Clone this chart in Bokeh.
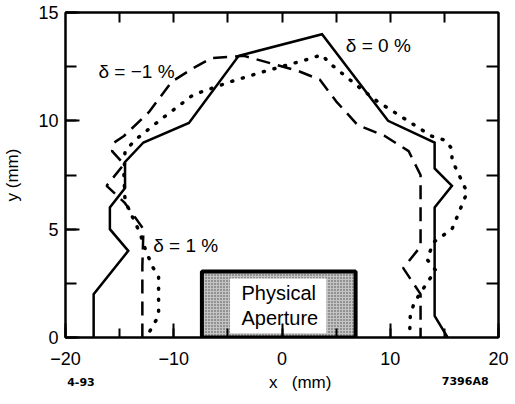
import math
from bokeh.plotting import figure
from bokeh.layouts import column
from bokeh.models import Range1d, LinearAxis, SingleIntervalTicker, FixedTicker, Label
from bokeh.embed import file_html
from bokeh.resources import INLINE

# ---- data ----
solid_x = [-17.4, -17.4, -14.2, -15.9, -15.9, -14.5, -14.5, -12.8, -8.6, -4.0, 3.7, 9.8, 14.1, 14.1, 15.7, 14.1, 14.1, 15.3]
solid_y = [0.0, 2.0, 4.0, 5.0, 6.0, 6.9, 8.1, 9.0, 9.9, 13.0, 14.0, 10.0, 9.0, 7.8, 7.0, 6.0, 1.0, 0.0]

dash_x = [-12.9, -12.9, -12.8, -14.5, -16.2, -14.6, -15.7, -15.5, -14.6, -12.3, -10.2, -8.3, -6.5, -3.5, 1.5, 3.5, 5.0, 7.0, 9.5, 11.7, 12.8, 12.8, 11.2, 12.8, 12.8]
dash_y = [0.0, 3.3, 5.0, 6.2, 7.0, 8.0, 8.6, 9.0, 9.3, 10.4, 11.8, 12.4, 12.9, 13.0, 12.3, 11.9, 10.9, 9.8, 9.3, 8.6, 7.5, 4.2, 3.2, 2.0, 0.0]

dot_x = [-12.2, -11.4, -11.4, -12.0, -12.8, -13.1, -14.5, -14.6, -14.5, -13.6, -11.1, -8.2, -4.8, -1.5, 2.1, 3.7, 4.3, 7.0, 8.8, 11.0, 13.8, 15.1, 15.7, 15.7, 17.1, 16.2, 15.7, 14.0, 13.4, 14.2, 13.5, 12.2, 11.85, 11.8]
dot_y = [0.3, 1.0, 2.8, 3.3, 4.3, 4.8, 6.3, 7.5, 8.6, 9.1, 10.1, 11.2, 11.8, 12.3, 12.8, 13.05, 12.7, 11.6, 10.9, 10.2, 9.3, 9.1, 8.7, 8.2, 6.7, 5.6, 5.0, 4.4, 3.6, 3.1, 2.6, 1.6, 1.0, 0.3]

aperture_x = [-7.4, 6.8]
aperture_h = 3.05
aperture_inner_x = [-4.8, 4.1]
aperture_inner_y = [0.2, 2.72]

series_labels = ["δ = 0 %", "δ = −1 %", "δ = 1 %"]
x_tick_labels = {-20: "−20", -10: "−10", 0: "0", 10: "10", 20: "20"}
top_ticks = [-15, -10, -5, 0, 5, 10, 15]
right_ticks = [2.5, 5, 7.5, 10, 12.5]

FONT = "Liberation Sans"

p = figure(frame_width=433, frame_height=325, output_backend="svg", toolbar_location=None,
           x_range=Range1d(-20, 20), y_range=Range1d(0, 15),
           min_border_left=64, min_border_right=12, min_border_top=12, min_border_bottom=34,
           background_fill_color="white", border_fill_color="white")
p.grid.visible = False
p.outline_line_color = "black"
p.outline_line_width = 2

xa = p.xaxis[0]
xa.ticker = SingleIntervalTicker(interval=10, num_minor_ticks=2)
xa.major_label_overrides = x_tick_labels
ya = p.yaxis[0]
ya.ticker = SingleIntervalTicker(interval=5, num_minor_ticks=2)

for ax, mt, mn in ((xa, 14, 9), (ya, 14, 11)):
    ax.axis_line_width = 2
    ax.axis_line_color = "black"
    ax.major_tick_in = mt
    ax.major_tick_out = 0
    ax.minor_tick_in = mn
    ax.minor_tick_out = 0
    ax.major_tick_line_width = 2
    ax.minor_tick_line_width = 2
    ax.major_tick_line_color = "black"
    ax.minor_tick_line_color = "black"
    ax.major_label_text_font = FONT
    ax.major_label_text_font_size = "18px"
    ax.major_label_text_color = "black"
    ax.axis_label_text_font = FONT
    ax.axis_label_text_font_size = "17px"
    ax.axis_label_text_font_style = "normal"
    ax.axis_label_text_color = "black"
xa.major_label_standoff = 14
ya.major_label_standoff = 7
ya.axis_label = "y (mm)"
ya.axis_label_standoff = 13

top = LinearAxis(ticker=FixedTicker(ticks=[], minor_ticks=top_ticks))
right = LinearAxis(ticker=FixedTicker(ticks=[], minor_ticks=right_ticks))
for ax, t in ((top, 10), (right, 12)):
    ax.axis_line_width = 2
    ax.major_tick_in = 0
    ax.major_tick_out = 0
    ax.minor_tick_in = t
    ax.minor_tick_out = 0
    ax.minor_tick_line_width = 2
    ax.major_label_standoff = 0
p.add_layout(top, "above")
p.add_layout(right, "right")

# physical aperture box
p.quad(left=[aperture_x[0]], right=[aperture_x[1]], bottom=[0], top=[aperture_h],
       fill_color="#c4c4c4", hatch_pattern="dot", hatch_color="#444444", hatch_scale=3,
       line_color="black", line_width=4)
p.quad(left=[aperture_inner_x[0]], right=[aperture_inner_x[1]],
       bottom=[aperture_inner_y[0]], top=[aperture_inner_y[1]],
       fill_color="white", line_color=None)

# curves
p.line(solid_x, solid_y, line_color="black", line_width=2.5, line_join="miter")
p.line(dash_x, dash_y, line_color="black", line_width=2.5, line_dash="14 8")
p.line(dot_x, dot_y, line_color="black", line_width=3.5, line_dash="1 10", line_cap="round")

def lab(fig, x, y, text, size="19px", align="left", baseline="middle", style="normal", font=FONT):
    fig.add_layout(Label(x=x, y=y, text=text, text_font=font, text_font_size=size,
                         text_align=align, text_baseline=baseline,
                         text_color="black", text_font_style=style))

lab(p, 5.9, 13.5, series_labels[0])
lab(p, -16.95, 12.3, series_labels[1])
lab(p, -11.9, 4.25, series_labels[2])

lab(p, -0.3, 2.05, "Physical", size="20px", align="center")
lab(p, -0.2, 0.88, "Aperture", size="20px", align="center")

# caption strip below the chart: x-axis title and figure codes (pixel-scaled ranges)
SW, SH = 505, 24
s = figure(width=SW, height=SH, output_backend="svg", toolbar_location=None,
           x_range=Range1d(0, SW), y_range=Range1d(0, SH),
           x_axis_location=None, y_axis_location=None,
           min_border_left=0, min_border_right=0, min_border_top=0, min_border_bottom=0,
           background_fill_color="white", border_fill_color="white")
s.grid.visible = False
s.outline_line_color = None
lab(s, 277, 13, "x\u00a0\u00a0\u00a0(mm)", size="17px", align="center")
lab(s, 2, 14, "4-93", size="11px", style="bold", font="DejaVu Sans")
lab(s, 444, 14, "7396A8", size="11px", style="bold", font="DejaVu Sans")

layout = column(p, s, spacing=0)
open("out.html", "w").write(file_html(layout, INLINE))
